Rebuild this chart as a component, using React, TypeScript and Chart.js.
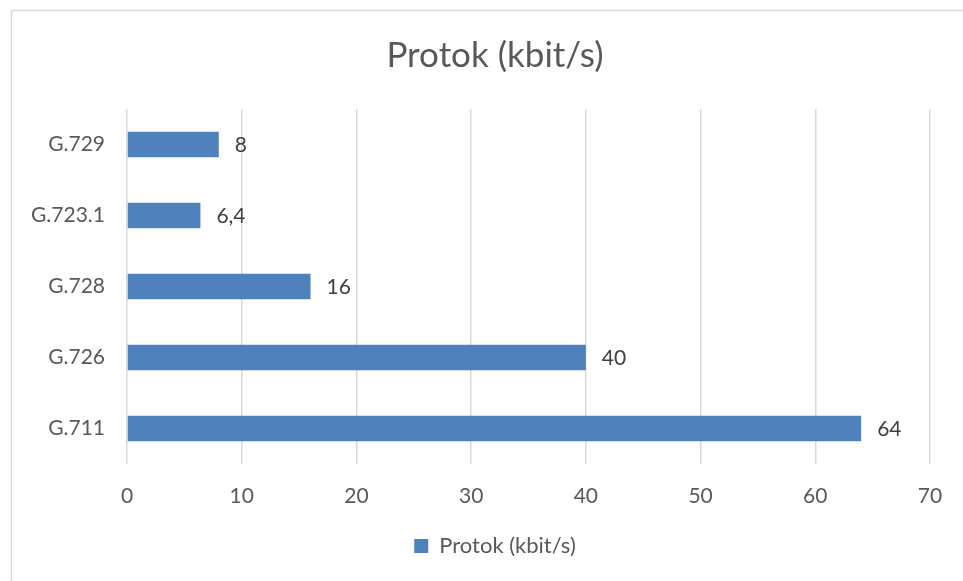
import React, { useEffect, useRef } from "react";
import { Chart, registerables } from "chart.js";

Chart.register(...registerables);

const categories: string[] = ["G.729", "G.723.1", "G.728", "G.726", "G.711"];
const values: number[] = [8, 6.4, 16, 40, 64];
const seriesName = "Protok (kbit/s)";
const titleText = "Protok (kbit/s)";
const xMin = 0;
const xMax = 70;
const xStep = 10;

const FONT = "Lato, 'Open Sans', sans-serif";
const TEXT = "#595959";
const LABEL = "#404040";
const BAR = "#4F81BD";
const GRID = "#D9D9D9";

const borderPlugin = {
  id: "outerBorder",
  beforeDraw(chart: any) {
    const ctx = chart.ctx;
    ctx.save();
    ctx.fillStyle = "#ffffff";
    ctx.fillRect(0, 0, chart.width, chart.height);
    ctx.strokeStyle = GRID;
    ctx.lineWidth = 1.5;
    ctx.strokeRect(11.5, 10.5, chart.width + 20, chart.height + 20);
    ctx.restore();
  },
};

const dataLabelPlugin = {
  id: "barValueLabels",
  afterDatasetsDraw(chart: any) {
    const ctx = chart.ctx;
    ctx.save();
    ctx.font = `21px ${FONT}`;
    ctx.fillStyle = LABEL;
    ctx.textAlign = "left";
    ctx.textBaseline = "middle";
    chart.data.datasets.forEach((ds: any, i: number) => {
      const meta = chart.getDatasetMeta(i);
      meta.data.forEach((el: any, j: number) => {
        const v = ds.data[j] as number;
        const txt = String(v).replace(".", ",");
        ctx.fillText(txt, el.x + 16, el.y + 1);
      });
    });
    ctx.restore();
  },
};

export default function App() {
  const ref = useRef<HTMLCanvasElement | null>(null);

  useEffect(() => {
    if (!ref.current) return;
    const chart = new Chart(ref.current, {
      type: "bar",
      data: {
        labels: categories,
        datasets: [
          {
            label: seriesName,
            data: values,
            backgroundColor: BAR,
            borderWidth: 0,
            categoryPercentage: 1,
            barPercentage: 0.36,
          },
        ],
      },
      options: {
        indexAxis: "y",
        animation: false,
        responsive: false,
        maintainAspectRatio: false,
        devicePixelRatio: 1,
        layout: { padding: { left: 30, right: 3, top: 0, bottom: 14 } },
        plugins: {
          title: {
            display: true,
            text: titleText,
            color: TEXT,
            font: { family: FONT, size: 35, weight: "normal" },
            padding: { top: 35, bottom: 32 },
          },
          legend: {
            display: true,
            position: "bottom",
            labels: {
              color: TEXT,
              font: { family: FONT, size: 22 },
              boxWidth: 14,
              boxHeight: 14,
              padding: 10,
            },
          },
          tooltip: { enabled: false },
        },
        scales: {
          x: {
            min: xMin,
            max: xMax,
            ticks: {
              stepSize: xStep,
              color: TEXT,
              font: { family: FONT, size: 21 },
              padding: 20,
            },
            grid: { color: GRID, lineWidth: 1.5, drawTicks: false },
            border: { display: false },
            afterFit(scale: any) {
              scale.height = 61;
            },
          },
          y: {
            ticks: {
              color: TEXT,
              font: { family: FONT, size: 21 },
              padding: 22,
            },
            grid: { display: false, drawTicks: false },
            border: { display: false },
            afterFit(scale: any) {
              scale.width = 97;
            },
          },
          yRightSpace: {
            type: "linear",
            position: "right",
            display: true,
            ticks: { display: false },
            grid: { display: false, drawTicks: false },
            border: { display: false },
            afterFit(scale: any) {
              scale.width = 30;
            },
          },
        },
      },
      plugins: [borderPlugin, dataLabelPlugin],
    });
    return () => chart.destroy();
  }, []);

  return (
    <div style={{ position: "fixed", left: 0, top: 0, width: 963, height: 581, background: "#fff" }}>
      <canvas ref={ref} width={963} height={581} style={{ display: "block" }} />
    </div>
  );
}
